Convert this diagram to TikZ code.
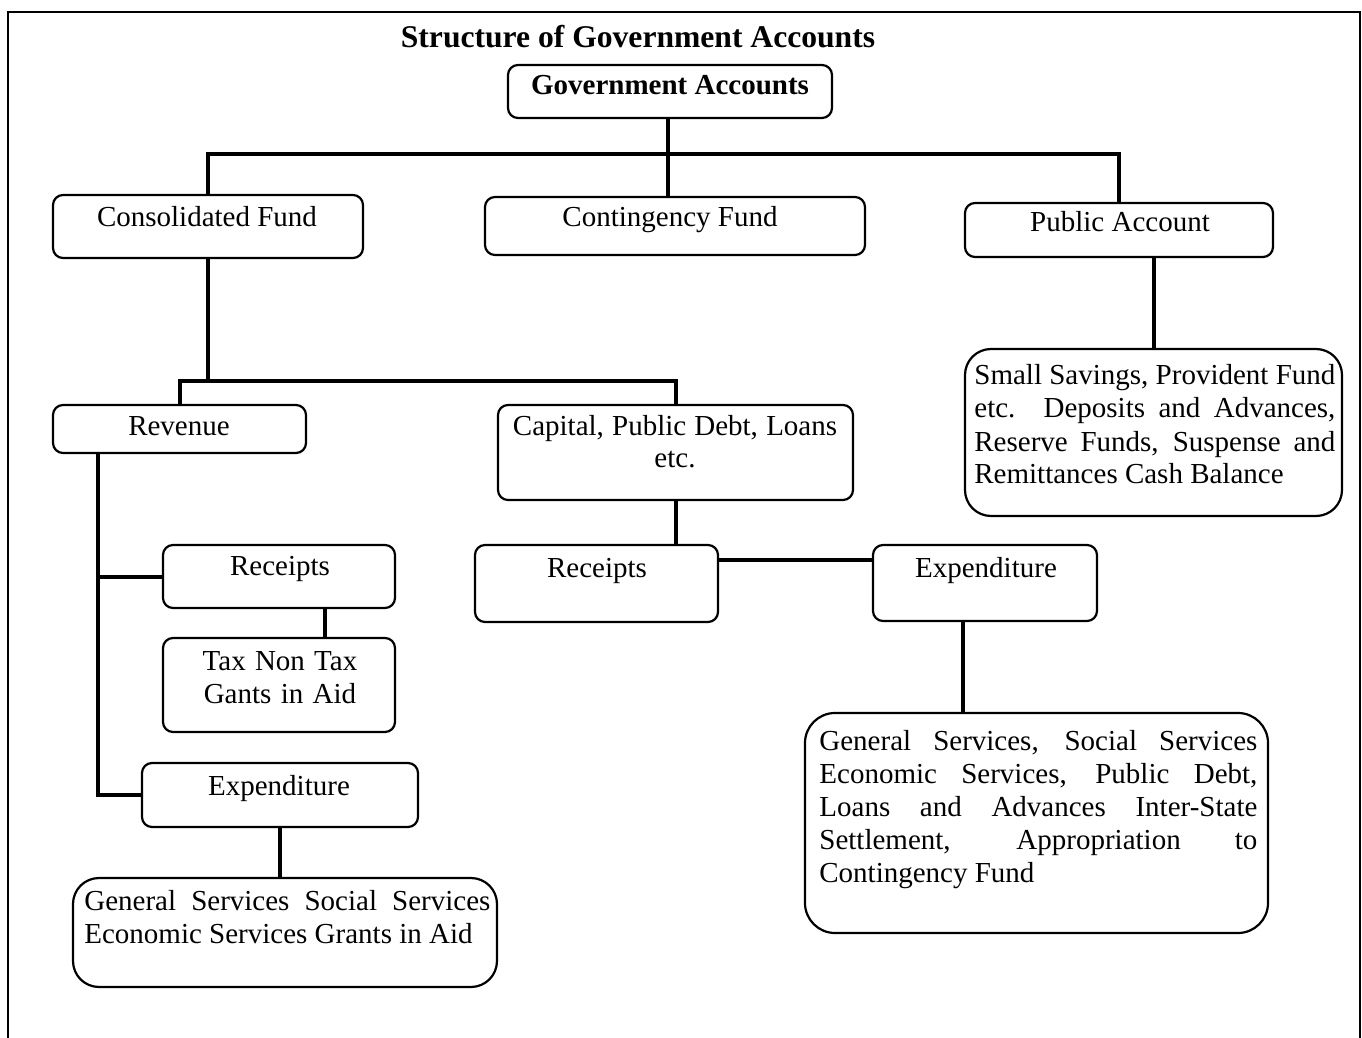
\documentclass[tikz,border=0pt]{standalone}
\usepackage{fontspec}
\setmainfont{Liberation Serif}
\usetikzlibrary{fit}
\newcommand{\nsp}{\spaceskip=0pt\relax\xspaceskip=0pt\relax}
\newcommand{\jline}[2]{\makebox[#1][s]{\nsp #2}}
\begin{document}
\begin{tikzpicture}[x=0.5pt,y=-0.5pt,
  box/.style={draw, line width=1.1pt, rounded corners=5pt, inner sep=0pt},
  bigbox/.style={box, rounded corners=13pt},
  conn/.style={line width=2pt, line cap=rect},
  txt/.style={inner sep=0pt, font=\fontsize{14.5}{16.5}\selectfont},
  para/.style={txt, anchor=base west, align=left},
  frame/.style={line width=1pt}]
\fill[white] (0,0) rectangle (1362,1038);
\useasboundingbox (0,0) rectangle (1362,1038);
% frame
\draw[frame] (8,1038) -- (8,12) -- (1360,12) -- (1360,1038);

% title
\node[txt, font=\bfseries\fontsize{15.8}{18}\selectfont, anchor=base] (title) at (638,48) {Structure of Government Accounts};

% boxes
\node[box, fit={(508,65) (832,118)}] (ga) {};
\node[box, fit={(53,195) (363,258)}] (cf) {};
\node[box, fit={(485,197) (865,255)}] (cg) {};
\node[box, fit={(965,203) (1273,257)}] (pa) {};
\node[bigbox, fit={(965,349) (1342,516)}] (ss) {};
\node[box, fit={(53,405) (306,453)}] (rev) {};
\node[box, fit={(498,405) (853,500)}] (cap) {};
\node[box, fit={(163,545) (395,608)}] (lrec) {};
\node[box, fit={(163,638) (395,732)}] (tax) {};
\node[box, fit={(142,763) (418,827)}] (lexp) {};
\node[bigbox, fit={(73,878) (497,987)}] (gen) {};
\node[box, fit={(475,545) (718,622)}] (mrec) {};
\node[box, fit={(873,545) (1097,621)}] (rexp) {};
\node[bigbox, rounded corners=15pt, fit={(805,713) (1268,933)}] (big) {};

% texts
\node[txt, font=\bfseries\fontsize{14.5}{16.5}\selectfont, anchor=base] (gat) at (670,95) {Government Accounts};
\node[txt, anchor=base] (cft) at (207,227) {Consolidated Fund};
\node[txt, anchor=base] (cgt) at (670,227) {Contingency Fund};
\node[txt, anchor=base] (pat) at (1120,232) {Public Account};
\node[txt, anchor=base] (revt) at (179,435) {Revenue};
\node[txt, anchor=base, text width=175pt, align=center] (capt) at (675,435) {\nsp Capital, Public Debt, Loans\\etc.};
\node[txt, anchor=base, text width=110pt, align=center] (taxt) at (280,670) {\nsp Tax Non Tax\\Gants in Aid};
\node[txt, anchor=base] (lexpt) at (279,795) {Expenditure};
\node[txt, anchor=base] (mrect) at (597,577) {Receipts};
\node[txt, anchor=base] (lrect) at (280,575) {Receipts};
\node[txt, anchor=base] (rexpt) at (986,577) {Expenditure};

\node[para, text width=180.5pt] (sst) at (974,385) {\nsp
\jline{180.5pt}{Small Savings, Provident Fund}\\
\jline{180.5pt}{etc. Deposits and Advances,}\\
\jline{180.5pt}{Reserve Funds, Suspense and}\\
Remittances Cash Balance};
\node[para, text width=219pt] (bigt) at (819,750) {\nsp
\jline{219pt}{General Services, Social Services}\\
\jline{219pt}{Economic Services, Public Debt,}\\
\jline{219pt}{Loans and Advances Inter-State}\\
\jline{219pt}{Settlement, Appropriation to}\\
Contingency Fund};
\node[para, text width=203pt] (gent) at (84,910) {\nsp
\jline{203pt}{General Services Social Services}\\
Economic Services Grants in Aid};

% connectors
\coordinate (bus) at (668,154);
\coordinate (bus2) at (676,381);
\coordinate (trunk) at (98,459);
\coordinate (rtx) at (325,620);
\coordinate (hy) at (800,560);
\coordinate (vx) at (963,650);

\draw[conn] (ga.south -| bus) -- (cg.north -| bus);
\draw[conn] (cf.north) -- (cf.north |- bus) -- (pa.north |- bus) -- (pa.north);
\draw[conn] (cf.south) -- (cf.south |- bus2);
\draw[conn] (rev.north) -- (rev.north |- bus2) -- (cap.north |- bus2) -- (cap.north);
\draw[conn] (ss.north |- pa.south) -- (ss.north);
\draw[conn] (rev.south -| trunk) -- (trunk |- lexp.west) -- (lexp.west);
\draw[conn] (trunk |- lrec.west) -- (lrec.west);
\draw[conn] (lrec.south -| rtx) -- (tax.north -| rtx);
\draw[conn] (lexp.south) -- (lexp.south |- gen.north);
\draw[conn] (cap.south) -- (cap.south |- mrec.north);
\draw[conn] (mrec.east |- hy) -- (rexp.west |- hy);
\draw[conn] (rexp.south -| vx) -- (big.north -| vx);
\end{tikzpicture}
\end{document}
